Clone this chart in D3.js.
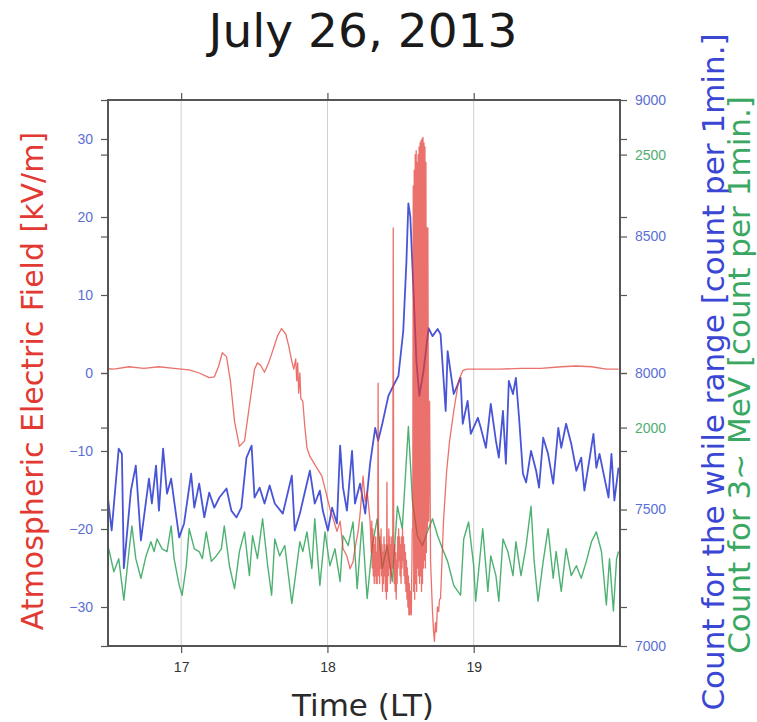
<!DOCTYPE html>
<html>
<head>
<meta charset="utf-8">
<script src="https://cdn.jsdelivr.net/npm/d3@7"></script>
<style>
  body { margin: 0; background: #fff; }
  svg { display: block; font-family: "DejaVu Sans", Verdana, sans-serif; }
</style>
</head>
<body>
<div id="chart"></div>
<script>
/* --- data (time = minutes after 16:00 LT) ------------------------------- */
const title = "July 26, 2013";
const hourTicks  = [17, 18, 19];
const fieldTicks = [-30, -20, -10, 0, 10, 20, 30];
const whileTicks = [7000, 7500, 8000, 8500, 9000];
const mevTicks   = [2000, 2500];

// atmospheric electric field [kV/m] as [minute, value]
const fieldSeries = [
  [27.4,0.6],[32.4,0.5],[38.6,0.8],[44.7,0.6],[50.9,0.8],[57.1,0.6],[60.0,0.5],[63.3,0.4],
  [67.4,0.0],[71.5,-0.6],[73.6,-0.5],[75.3,0.8],[76.9,2.6],[78.6,2.1],[80.2,-1.0],[81.9,-6.2],
  [83.9,-9.4],[86.0,-8.7],[88.0,-4.2],[90.1,0.5],[91.3,1.3],[92.6,1.0],[94.2,0.1],[95.9,1.3],
  [97.5,2.8],[99.6,4.8],[101.2,5.7],[102.9,5.0],[104.1,3.5],[105.4,1.5],[106.2,0.5],[107.0,1.8],
  [107.4,-1.0],[107.8,1.3],[108.2,-2.6],[108.7,0.0],[109.1,-3.3],[109.9,-3.6],[110.7,-6.8],
  [111.6,-9.6],[112.8,-10.7],[114.0,-11.3],[115.7,-12.2],[117.7,-13.2],[119.0,-14.8],
  [121.0,-17.4],[122.7,-19.0],[123.9,-20.3],[125.2,-19.0],[126.4,-22.5],[128.0,-23.5],
  [129.3,-25.1],[130.5,-24.2],[131.3,-22.5],[132.6,-20.3],[133.4,-18.1],[134.6,-13.2],
  [135.5,-16.5],[136.3,-15.2],[137.5,-19.0],
  [138.0,-23],[138.2,-19],[138.4,-25],[138.6,-20],[138.8,-26],[139.0,-21],[139.2,-27],[139.4,-22],
  [139.6,-26],[139.8,-21],[140.0,-27],[140.2,-23],[140.4,-27],[140.6,-22],[140.8,-1.3],[141.0,-26],
  [141.2,-22],[141.4,-27],[141.6,-21],[141.8,-25],[142.0,-20],[142.2,-26],[142.4,-22],[142.6,-28],
  [142.8,-23],[143.0,-27],[143.2,-21],[143.4,-26],[143.6,-22],[143.8,-28],[144.0,-23],[144.2,-29],
  [144.4,-14],[144.6,-28],[144.8,-22],[145.0,-26],[145.2,-20],[145.4,-25],[145.6,-21],[145.8,-27],
  [146.0,-22],[146.2,-26],[146.4,-21],[146.6,-25],[146.8,-20],[147.0,18.6],[147.2,-23],[147.4,-27],
  [147.6,-22],[147.8,-28],[148.0,-23],[148.2,-29],[148.4,-24],[148.6,-27],[148.8,-21],[149.0,-25],
  [149.2,-20],[149.4,-24],[149.6,-21],[149.8,-26],[150.0,-22],[150.2,-27],[150.4,-21],[150.6,-25],
  [150.8,-20],[151.0,-24],[151.2,-21],[151.4,-26],[151.6,-22],[151.8,-27],[152.0,-23],[152.2,-28],
  [152.4,-24],[152.6,-29],[152.8,-25],[153.0,-30],[153.2,-26],[153.4,-31],[153.6,-27],[153.8,-31],
  [154.0,-28],[154.4,-31],[154.8,-20],
  [155.0,-20],[155.2,24],[155.4,-28],[155.6,26],[155.8,-29],[156.0,28],[156.2,-27],[156.4,28.5],
  [156.6,-28],[156.8,27],[157.0,-25],[157.2,28],[157.4,-26],[157.6,29],[157.8,-27],[158.0,29.5],
  [158.2,-26],[158.4,29.8],[158.6,-28],[158.8,30],[159.0,-27],[159.2,30.2],[159.4,-25],[159.6,29.5],
  [159.8,-24],[160.0,29],[160.2,-25],[160.4,27],[160.6,-23],[160.8,18.6],[161.0,-20],[161.2,18.6],
  [161.5,-19.0],[161.9,-3.6],[162.3,-24.2],[163.1,-30.6],[163.5,-33],[163.9,-34.4],[164.3,-32],
  [164.7,-33.2],[165.1,-30],[165.6,-30.6],[166.0,-29],[166.4,-28.9],[167.6,-19.0],[168.9,-12.6],
  [170.1,-8.7],[171.8,-4.9],[173.8,-1.0],[175.5,0.3],[177.1,0.5],[182.9,0.5],[191.1,0.5],
  [199.4,0.6],[207.6,0.6],[215.9,0.8],[222.1,0.9],[228.3,0.8],[234.4,0.5],[239.4,0.5]
];

// count for the while range [count per 1 min]
const whileMin = [27.4,29.5,31.5,34.4,35.7,36.5,39.4,41.4,43.5,46.8,
  48.0,49.7,50.9,52.6,54.2,55.9,57.1,59.2,61.2,64.1,
  65.4,67.4,69.5,71.5,73.6,75.7,78.6,80.6,82.7,84.7,
  86.8,88.9,90.1,92.2,94.2,96.3,98.4,101.7,105.4,106.6,
  108.7,110.7,112.8,114.8,116.9,118.1,120.2,121.9,123.9,125.2,
  126.4,128.0,130.1,131.3,133.4,135.5,137.5,139.6,140.8,142.5,
  145.0,147.0,149.1,151.1,152.4,153.2,154.0,155.3,156.5,157.7,
  159.4,161.5,163.1,165.2,166.4,168.5,169.3,171.8,174.6,175.5,
  177.5,178.8,181.7,182.9,185.0,187.0,189.1,190.3,192.0,193.2,
  194.4,196.1,197.3,198.6,200.2,201.5,203.5,205.6,206.8,208.5,
  210.5,212.6,214.7,215.9,217.9,220.0,222.1,224.1,225.4,227.4,
  229.1,230.3,231.6,233.6,235.3,236.5,237.7,239.4];
const whileVal = [7595,7580,7423,7723,7704,7285,7569,7661,7387,7613,
  7522,7661,7496,7723,7558,7613,7533,7398,7449,7631,
  7507,7595,7471,7562,7507,7544,7577,7496,7471,7507,
  7690,7734,7544,7580,7522,7588,7522,7485,7624,7423,
  7485,7562,7642,7522,7569,7496,7423,7507,7449,7734,
  7580,7496,7715,7522,7595,7485,7668,7799,7752,7814,
  7916,7953,7989,8153,8409,8621,8573,8299,8044,7916,
  8007,8164,8135,8161,8142,7861,8080,7923,7982,7814,
  7898,7777,7836,7799,7726,7887,7752,7690,7861,7668,
  7971,7923,7982,7836,7631,7599,7715,7642,7580,7763,
  7704,7595,7799,7726,7814,7741,7642,7690,7569,7679,
  7777,7653,7704,7617,7544,7704,7533,7653];

// count for 3~ MeV [count per 1 min]
const mevMin = [27.4,28.2,30.3,32.4,34.4,36.5,38.6,39.8,41.4,43.5,
  45.6,47.6,48.9,50.1,52.2,54.2,55.9,57.1,59.2,60.4,
  62.1,63.3,65.4,67.4,68.7,70.3,72.4,74.4,76.5,77.7,
  79.8,81.9,83.9,86.0,88.0,89.3,91.3,93.4,95.5,97.1,
  98.4,100.4,102.5,105.4,108.7,109.9,111.6,113.6,114.8,116.9,
  119.0,121.0,123.1,125.2,126.4,128.5,130.5,132.2,134.2,136.3,
  138.4,140.4,142.5,144.5,146.6,148.7,150.7,153.2,154.9,156.9,
  159.0,161.0,163.1,165.2,167.2,169.3,171.8,174.6,175.9,177.9,
  180.0,180.8,183.7,185.8,187.0,189.1,190.3,192.0,194.0,196.1,
  197.3,199.4,201.5,203.5,204.8,206.4,208.5,210.5,212.6,213.8,
  215.9,217.9,220.0,222.1,224.1,226.2,228.3,230.3,232.4,234.4,
  235.7,237.3,238.6,239.4];
const mevVal = [1773,1755,1778,1736,1760,1684,1773,1820,1760,1724,
  1765,1791,1773,1796,1778,1773,1820,1760,1711,1693,
  1747,1815,1778,1773,1760,1809,1755,1765,1778,1820,
  1747,1705,1773,1809,1729,1802,1760,1833,1747,1693,
  1796,1765,1784,1678,1791,1773,1809,1742,1833,1711,
  1809,1747,1778,1718,1802,1784,1827,1705,1827,1687,
  1784,1833,1742,1784,1718,1856,1815,2002,1864,1802,
  1784,1809,1833,1802,1778,1755,1711,1693,1796,1827,
  1747,1682,1815,1700,1765,1729,1682,1796,1773,1729,
  1791,1729,1784,1856,1755,1682,1755,1815,1724,1773,
  1700,1778,1729,1747,1724,1755,1791,1809,1773,1675,
  1760,1664,1760,1773];

/* --- layout ------------------------------------------------------------- */
const width = 757, height = 722;
const plot = {left: 108, right: 620, top: 100, bottom: 646};
const cRed = "#e23a33", cBlue = "#3a46d4", cGreen = "#3aa862";
const cTickBlue = "#5b70d6", cTickGreen = "#4fae72";

const svg = d3.select("#chart").append("svg")
  .attr("width", width).attr("height", height);

const x  = d3.scaleLinear().domain([16.5, 20]).range([plot.left, plot.right]);
const yE = d3.scaleLinear().domain([-35, 35]).range([plot.bottom, plot.top]);
const yW = d3.scaleLinear().domain([7000, 9000]).range([plot.bottom, plot.top]);
const yM = d3.scaleLinear().domain([1600, 2600]).range([plot.bottom, plot.top]);

/* --- grid --------------------------------------------------------------- */
svg.append("g").selectAll("line").data(hourTicks).join("line")
  .attr("x1", d => x(d)).attr("x2", d => x(d))
  .attr("y1", plot.top).attr("y2", plot.bottom)
  .attr("stroke", "#cfcfcf").attr("stroke-width", 1);

/* --- series ------------------------------------------------------------- */
svg.append("clipPath").attr("id", "clip").append("rect")
  .attr("x", plot.left).attr("y", plot.top)
  .attr("width", plot.right - plot.left).attr("height", plot.bottom - plot.top);

const series = [
  {pts: whileMin.map((m, i) => [m, whileVal[i]]), y: yW, color: cBlue,  w: 1.8, op: 0.92},
  {pts: mevMin.map((m, i) => [m, mevVal[i]]),     y: yM, color: cGreen, w: 1.4, op: 0.9},
  {pts: fieldSeries,                               y: yE, color: cRed,   w: 1.3, op: 0.72}
];
const lines = svg.append("g").attr("clip-path", "url(#clip)");
series.forEach(s => {
  lines.append("path")
    .attr("d", d3.line().x(d => x(16 + d[0] / 60)).y(d => s.y(d[1]))(s.pts))
    .attr("fill", "none")
    .attr("stroke", s.color)
    .attr("stroke-width", s.w)
    .attr("stroke-opacity", s.op)
    .attr("stroke-linejoin", "round");
});

/* --- axes --------------------------------------------------------------- */
const style = (g, color) => {
  g.select(".domain").remove();
  g.selectAll(".tick line").attr("stroke", "#555").attr("stroke-width", 1.2);
  g.selectAll(".tick text").attr("fill", color).style("font-size", "14px");
};
const blank = () => "";
const fmt = d3.format("d");

// left: field labels + other axes' ticks
svg.append("g").attr("transform", `translate(${plot.left},0)`)
  .call(d3.axisLeft(yE).tickValues(fieldTicks).tickSize(7).tickPadding(8).tickFormat(fmt))
  .call(g => style(g, cTickBlue));
svg.append("g").attr("transform", `translate(${plot.left},0)`)
  .call(d3.axisLeft(yW).tickValues(whileTicks).tickSize(7).tickFormat(blank))
  .call(g => style(g));
svg.append("g").attr("transform", `translate(${plot.left},0)`)
  .call(d3.axisLeft(yM).tickValues(mevTicks).tickSize(7).tickFormat(blank))
  .call(g => style(g));

// right: while + MeV labels + field ticks
svg.append("g").attr("transform", `translate(${plot.right},0)`)
  .call(d3.axisRight(yW).tickValues(whileTicks).tickSize(7).tickPadding(8).tickFormat(fmt))
  .call(g => style(g, cTickBlue));
svg.append("g").attr("transform", `translate(${plot.right},0)`)
  .call(d3.axisRight(yM).tickValues(mevTicks).tickSize(7).tickPadding(8).tickFormat(fmt))
  .call(g => style(g, cTickGreen));
svg.append("g").attr("transform", `translate(${plot.right},0)`)
  .call(d3.axisRight(yE).tickValues(fieldTicks).tickSize(7).tickFormat(blank))
  .call(g => style(g));

// bottom / top
svg.append("g").attr("transform", `translate(0,${plot.bottom})`)
  .call(d3.axisBottom(x).tickValues(hourTicks).tickSize(7).tickPadding(9).tickFormat(fmt))
  .call(g => style(g, "#333"));
svg.append("g").attr("transform", `translate(0,${plot.top})`)
  .call(d3.axisTop(x).tickValues(hourTicks).tickSize(7).tickFormat(blank))
  .call(g => style(g));

// frame
svg.append("rect")
  .attr("x", plot.left).attr("y", plot.top)
  .attr("width", plot.right - plot.left).attr("height", plot.bottom - plot.top)
  .attr("fill", "none").attr("stroke", "#555").attr("stroke-width", 2);

/* --- text --------------------------------------------------------------- */
svg.append("text")
  .attr("x", 363).attr("y", 47).attr("text-anchor", "middle")
  .attr("fill", "#1a1a1a").style("font-size", "47px")
  .text(title);

svg.append("text")
  .attr("x", 363).attr("y", 716).attr("text-anchor", "middle")
  .attr("fill", "#2a2a2a").style("font-size", "31px")
  .text("Time (LT)");

svg.append("text")
  .attr("transform", "translate(43,381) rotate(-90)")
  .attr("text-anchor", "middle").attr("fill", cRed).style("font-size", "30px")
  .text("Atmospheric Electric Field [kV/m]");

svg.append("text")
  .attr("transform", "translate(724,372) rotate(-90)")
  .attr("text-anchor", "middle").attr("fill", cBlue).style("font-size", "31px")
  .text("Count for the while range [count per 1min.]");

svg.append("text")
  .attr("transform", "translate(750,375) rotate(-90)")
  .attr("text-anchor", "middle").attr("fill", cGreen).style("font-size", "31px")
  .text("Count for 3~ MeV [count per 1min.]");
</script>
</body>
</html>
